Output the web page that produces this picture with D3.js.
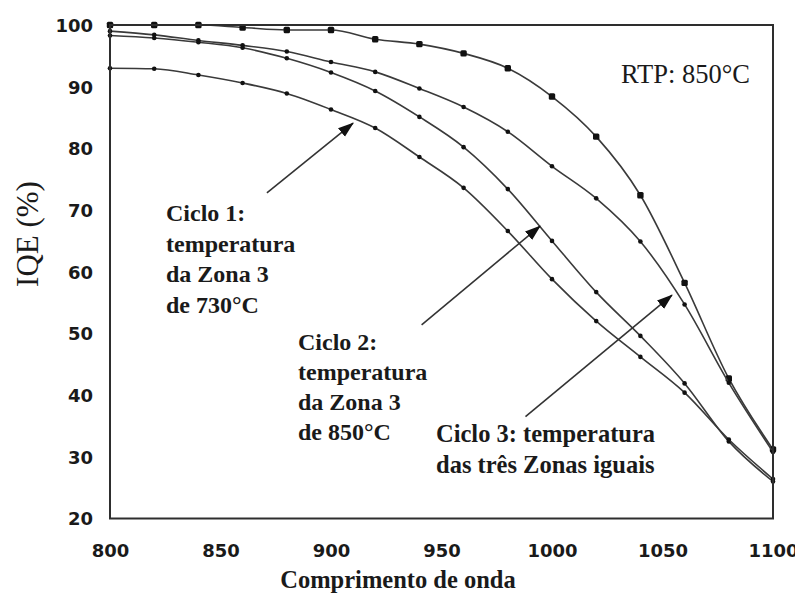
<!DOCTYPE html>
<html>
<head>
<meta charset="utf-8">
<script src="https://cdn.jsdelivr.net/npm/d3@7"></script>
<style>
  html, body { margin: 0; padding: 0; background: #fff; }
  svg { display: block; }
</style>
</head>
<body>
<svg id="chart" width="795" height="597"></svg>
<script>
// Comprimento de onda (nm)
const wavelengths = [800, 820, 840, 860, 880, 900, 920, 940, 960, 980, 1000, 1020, 1040, 1060, 1080, 1100];

// IQE (%) por curva
const iqeRTP    = [100, 100, 100, 99.6, 99.2, 99.2, 97.7, 96.9, 95.4, 93.0, 88.4, 81.9, 72.4, 58.2, 42.7, 31.2];
const iqeCiclo3 = [99.0, 98.4, 97.5, 96.7, 95.7, 94.0, 92.4, 89.7, 86.7, 82.7, 77.1, 71.9, 64.9, 54.7, 42.0, 30.8];
const iqeCiclo2 = [98.3, 97.9, 97.2, 96.3, 94.6, 92.3, 89.3, 85.1, 80.2, 73.4, 65.0, 56.7, 49.6, 41.9, 32.5, 26.0];
const iqeCiclo1 = [93.0, 92.9, 91.9, 90.6, 88.9, 86.3, 83.3, 78.6, 73.6, 66.6, 58.8, 52.0, 46.2, 40.4, 32.8, 26.4];

// Ticks
const xTicks = [800, 850, 900, 950, 1000, 1050, 1100];
const yTicks = [20, 30, 40, 50, 60, 70, 80, 90, 100];

// Anotações: [comprimento de onda, IQE] da cauda e da ponta de cada seta
const arrowCiclo1 = [[871, 72.8], [910, 84.1]];
const arrowCiclo2 = [[941, 51.4], [994.6, 67.4]];
const arrowCiclo3 = [[988, 36.5], [1054.3, 56.2]];

const svg = d3.select("#chart");
const plotLeft = 110, plotRight = 773, plotTop = 25, plotBottom = 518.5;

const x = d3.scaleLinear().domain([800, 1100]).range([plotLeft, plotRight]);
const y = d3.scaleLinear().domain([20, 100]).range([plotBottom, plotTop]);

const ink = "#2e2e2e";
const serif = "Liberation Serif, Times New Roman, serif";

// Arrow head marker
svg.append("defs").append("marker")
  .attr("id", "head")
  .attr("markerUnits", "userSpaceOnUse")
  .attr("viewBox", "0 -6 16 12")
  .attr("refX", 15).attr("refY", 0)
  .attr("markerWidth", 16).attr("markerHeight", 12)
  .attr("orient", "auto")
  .append("path")
  .attr("d", "M0,-5.5L16,0L0,5.5Z")
  .attr("fill", "#111");

// Axes (labels only, frame drawn separately)
const xAxis = d3.axisBottom(x).tickValues(xTicks).tickSize(0).tickPadding(0).tickFormat(d3.format("d"));
const yAxis = d3.axisLeft(y).tickValues(yTicks).tickSize(0).tickPadding(0).tickFormat(d3.format("d"));

const gx = svg.append("g").attr("transform", `translate(0,${plotBottom})`).call(xAxis);
gx.select(".domain").remove();
gx.selectAll("text")
  .attr("y", 32).attr("dy", "0.35em")
  .style("font-family", "DejaVu Sans").style("font-weight", "bold")
  .style("font-size", "18px").attr("fill", "#1a1a1a");

const gy = svg.append("g").attr("transform", `translate(93,0)`).call(yAxis);
gy.select(".domain").remove();
gy.selectAll("text")
  .attr("x", 0).attr("dy", "0.35em")
  .style("font-family", "DejaVu Sans").style("font-weight", "bold")
  .style("font-size", "18px").attr("fill", "#1a1a1a");

// Curves
const series = [
  { values: iqeRTP, big: true },
  { values: iqeCiclo3, big: false },
  { values: iqeCiclo2, big: false },
  { values: iqeCiclo1, big: false }
];

const line = d3.line()
  .x(d => x(d[0]))
  .y(d => y(d[1]))
  .curve(d3.curveMonotoneX);

series.forEach(s => {
  const pts = wavelengths.map((w, i) => [w, s.values[i]]);
  svg.append("path")
    .datum(pts)
    .attr("d", line)
    .attr("fill", "none")
    .attr("stroke", "#3a3a3a")
    .attr("stroke-width", 1.6);
  if (s.big) {
    svg.append("g").selectAll("rect")
      .data(pts).join("rect")
      .attr("x", d => x(d[0]) - 3.2).attr("y", d => y(d[1]) - 3.2)
      .attr("width", 6.4).attr("height", 6.4)
      .attr("rx", 1.5)
      .attr("fill", "#111");
  } else {
    svg.append("g").selectAll("circle")
      .data(pts).join("circle")
      .attr("cx", d => x(d[0])).attr("cy", d => y(d[1]))
      .attr("r", 2.3)
      .attr("fill", "#111");
  }
});

// Plot frame
svg.append("rect")
  .attr("x", plotLeft).attr("y", plotTop)
  .attr("width", plotRight - plotLeft).attr("height", plotBottom - plotTop)
  .attr("fill", "none").attr("stroke", ink).attr("stroke-width", 2);

// Arrows
[arrowCiclo1, arrowCiclo2, arrowCiclo3].forEach(a => {
  svg.append("line")
    .attr("x1", x(a[0][0])).attr("y1", y(a[0][1]))
    .attr("x2", x(a[1][0])).attr("y2", y(a[1][1]))
    .attr("stroke", "#333").attr("stroke-width", 1.6)
    .attr("marker-end", "url(#head)");
});

// Annotation text
function block(lines, x0, y0, step, size) {
  const t = svg.append("text")
    .attr("font-family", serif)
    .attr("font-weight", "bold")
    .attr("font-size", size)
    .attr("fill", "#1a1a1a");
  lines.forEach((s, i) => {
    t.append("tspan").attr("x", x0).attr("y", y0 + i * step).text(s);
  });
}
block(["Ciclo 1:", "temperatura", "da Zona 3", "de 730°C"], 166, 221, 30.5, 24);
block(["Ciclo 2:", "temperatura", "da Zona 3", "de 850°C"], 298, 350, 30, 24);
block(["Ciclo 3: temperatura", "das três Zonas iguais"], 436, 442, 31, 24.5);

svg.append("text")
  .attr("x", 621).attr("y", 83)
  .attr("font-family", serif)
  .attr("font-size", 26.5)
  .attr("fill", "#1a1a1a")
  .text("RTP: 850°C");

// Axis titles
svg.append("text")
  .attr("x", 398).attr("y", 588)
  .attr("text-anchor", "middle")
  .attr("font-family", serif)
  .attr("font-weight", "bold")
  .attr("font-size", 24.5)
  .attr("fill", "#1a1a1a")
  .text("Comprimento de onda");

svg.append("text")
  .attr("transform", "translate(38,234) rotate(-90)")
  .attr("text-anchor", "middle")
  .attr("font-family", serif)
  .attr("font-size", 31)
  .attr("fill", "#1a1a1a")
  .text("IQE (%)");
</script>
</body>
</html>
